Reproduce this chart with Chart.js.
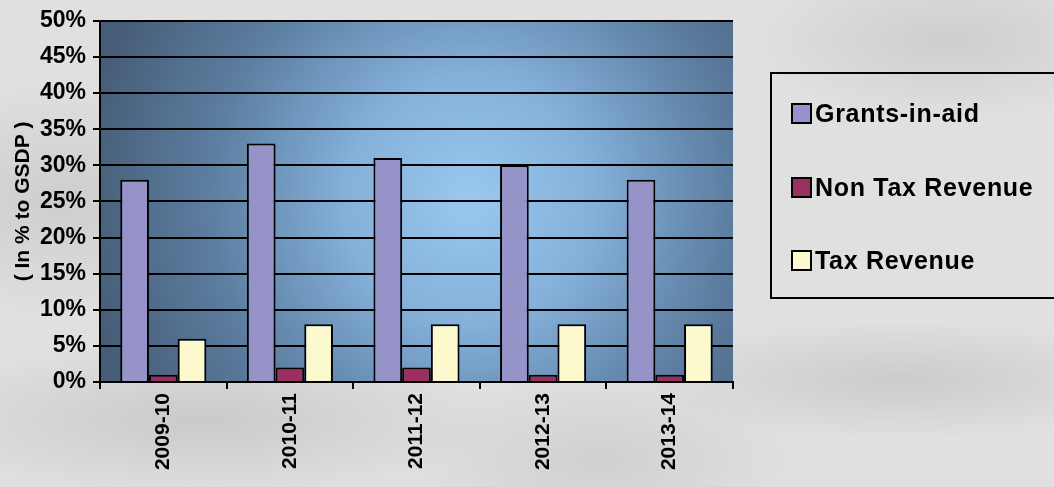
<!DOCTYPE html>
<html>
<head>
<meta charset="utf-8">
<script src="https://cdn.jsdelivr.net/npm/chart.js@4"></script>
<style>
  html, body { margin: 0; padding: 0; }
  body {
    width: 1054px; height: 487px; overflow: hidden; position: relative;
    background:
      radial-gradient(ellipse 300px 80px at 200px 420px, rgba(150,150,150,0.3), transparent),
      radial-gradient(ellipse 260px 60px at 900px 380px, rgba(140,140,140,0.25), transparent),
      radial-gradient(ellipse 200px 90px at 600px 460px, rgba(160,160,160,0.25), transparent),
      radial-gradient(ellipse 220px 120px at 60px 200px, rgba(150,150,150,0.25), transparent),
      radial-gradient(ellipse 200px 80px at 950px 40px, rgba(150,150,150,0.25), transparent),
      #e0e0e0;
    font-family: "Liberation Sans", Arial, sans-serif;
  }
  #chart { position: absolute; left: 0; top: 0; }
  #legend {
    position: absolute; left: 770px; top: 72px; width: 300px; height: 227px;
    border: 2px solid #000; box-sizing: border-box;
  }
  .item {
    position: absolute; left: 19px; display: flex; align-items: center;
    font-weight: bold; font-size: 25px; letter-spacing: 0.7px; color: #000; height: 24px;
  }
  .swatch {
    width: 17px; height: 17px; border: 2px solid #000; margin-right: 3px;
  }
</style>
</head>
<body>
<canvas id="chart" width="1054" height="487"></canvas>
<div id="legend"></div>
<script>
const years = ["2009-10", "2010-11", "2011-12", "2012-13", "2013-14"];
const grantsInAid = [28, 33, 31, 30, 28];
const nonTaxRevenue = [1, 2, 2, 1, 1];
const taxRevenue = [6, 8, 8, 8, 8];
const seriesNames = ["Grants-in-aid", "Non Tax Revenue", "Tax Revenue"];
const seriesColors = ["#9693c9", "#9b2f5f", "#fcf9cf"];

// Blue radial backdrop behind the plot area
const plotBackground = {
  id: "plotBackground",
  beforeDraw(chart) {
    const { ctx, chartArea: a } = chart;
    const g = ctx.createRadialGradient(470, 200, 10, 470, 200, 390);
    g.addColorStop(0, "#98c6ec");
    g.addColorStop(0.3, "#84b0da");
    g.addColorStop(0.65, "#5d7fa2");
    g.addColorStop(1, "#465d77");
    ctx.save();
    ctx.fillStyle = g;
    ctx.fillRect(a.left, a.top, a.right - a.left, a.bottom - a.top);
    ctx.restore();
  },
};

const ctx = document.getElementById("chart").getContext("2d");
new Chart(ctx, {
  type: "bar",
  data: {
    labels: years,
    datasets: [grantsInAid, nonTaxRevenue, taxRevenue].map((values, i) => ({
      label: seriesNames[i],
      data: values,
      backgroundColor: seriesColors[i],
      borderColor: "#000",
      borderWidth: 2,
      categoryPercentage: 0.68,
      barPercentage: 1,
    })),
  },
  options: {
    responsive: false,
    animation: false,
    layout: { padding: { top: 16, right: 321, left: 0, bottom: 0 } },
    plugins: {
      legend: { display: false },
      tooltip: { enabled: false },
    },
    scales: {
      x: {
        afterFit: (s) => { s.height = 105; },
        grid: {
          drawOnChartArea: false,
          color: "#000",
          lineWidth: 2,
          tickLength: 7,
          offset: true,
        },
        border: { color: "#000", width: 2 },
        ticks: {
          color: "#000",
          minRotation: 90,
          maxRotation: 90,
          padding: 4,
          font: { family: "Liberation Sans", size: 21, weight: "bold" },
        },
      },
      y: {
        min: 0,
        max: 50,
        afterFit: (s) => { s.width = 100; },
        grid: { color: "#000", lineWidth: 2, tickLength: 7 },
        border: { color: "#000", width: 2 },
        ticks: {
          stepSize: 5,
          color: "#000",
          padding: 7,
          callback: (v) => v + "%",
          font: { family: "Liberation Sans", size: 23, weight: "bold" },
        },
        title: {
          display: true,
          text: "( In % to GSDP )",
          color: "#000",
          padding: { top: 11, bottom: 0 },
          font: { family: "Liberation Sans", size: 21, weight: "bold" },
        },
      },
    },
  },
  plugins: [plotBackground],
});

// Boxed legend on the right
const legend = document.getElementById("legend");
const itemTops = [27, 101, 174];
seriesNames.forEach((name, i) => {
  const item = document.createElement("div");
  item.className = "item";
  item.style.top = itemTops[i] + "px";
  item.innerHTML = `<div class="swatch" style="background:${seriesColors[i]}"></div>${name}`;
  legend.appendChild(item);
});
</script>
</body>
</html>
